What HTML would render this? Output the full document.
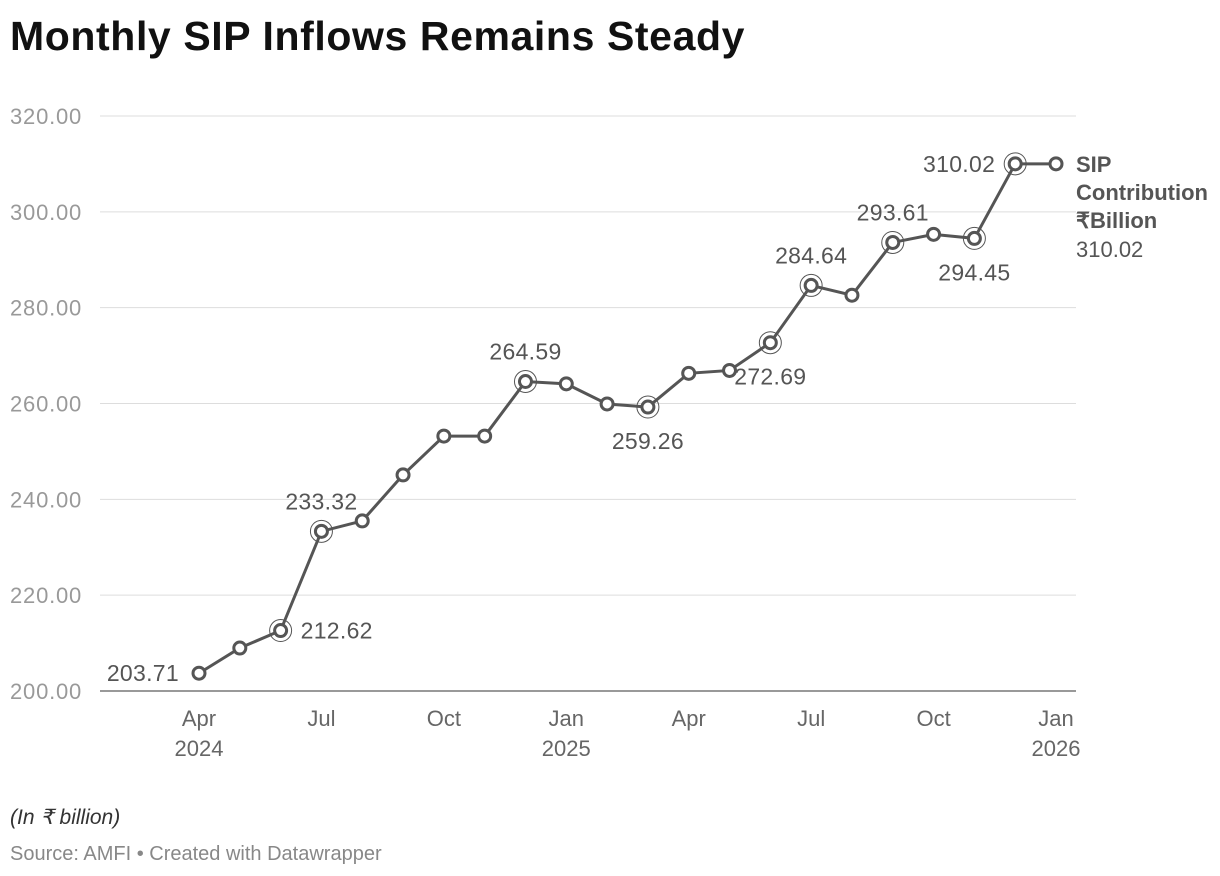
<!DOCTYPE html>
<html><head><meta charset="utf-8"><style>
body{margin:0;background:#fff;font-family:"Liberation Sans","Noto Sans CJK SC",sans-serif;}
svg{display:block}
</style></head><body>
<svg width="1220" height="876">
<text x="10" y="50" font-size="41" font-weight="bold" fill="#111" letter-spacing="0.6">Monthly SIP Inflows Remains Steady</text>
<g id="grid"></g><g id="series"></g><g id="labels"></g>
<text x="10" y="824" font-size="21" font-style="italic" fill="#333">(In ₹ billion)</text>
<text x="10" y="860" font-size="20" fill="#888">Source: AMFI • Created with Datawrapper</text>
</svg>
<script>
const months=["Apr 2024","May 2024","Jun 2024","Jul 2024","Aug 2024","Sep 2024","Oct 2024","Nov 2024","Dec 2024","Jan 2025","Feb 2025","Mar 2025","Apr 2025","May 2025","Jun 2025","Jul 2025","Aug 2025","Sep 2025","Oct 2025","Nov 2025","Dec 2025","Jan 2026"];
const values=[203.71,208.97,212.62,233.32,235.5,245.1,253.2,253.2,264.59,264.1,259.9,259.26,266.3,266.9,272.69,284.64,282.6,293.61,295.3,294.45,310.02,310.02];
const highlighted=[2,3,8,11,14,15,17,19,20];
const labelPos={0:"left",2:"right",3:"above",8:"above",11:"below",14:"below",15:"above",17:"above",19:"below",20:"left"};
const yTicks=[200,220,240,260,280,300,320];
const xTicks=[[0,"Apr","2024"],[3,"Jul",""],[6,"Oct",""],[9,"Jan","2025"],[12,"Apr",""],[15,"Jul",""],[18,"Oct",""],[21,"Jan","2026"]];
const NS="http://www.w3.org/2000/svg";
const X=i=>199+i*(1056-199)/21;
const Y=v=>691-(v-200)*(691-116)/120;
function mk(p,t,a){const e=document.createElementNS(NS,t);for(const k in a)e.setAttribute(k,a[k]);p.appendChild(e);return e;}
const grid=document.getElementById('grid'),ser=document.getElementById('series'),lab=document.getElementById('labels');
yTicks.forEach(v=>{
 const l=mk(grid,'line',{x1:100,x2:1076,y1:Y(v),y2:Y(v),stroke:v==200?'#333':'#ddd','stroke-width':1});
 
 
 const t=mk(grid,'text',{x:10,y:Y(v)+8,'font-size':22,fill:'#999','letter-spacing':0.8});t.textContent=v.toFixed(2);
 
 
});
xTicks.forEach(([i,m,y])=>{
 const t=mk(grid,'text',{x:X(i),y:726,'font-size':22,fill:'#666','text-anchor':'middle'});t.textContent=m;
 
 
 if(y){const t2=mk(grid,'text',{x:X(i),y:756,'font-size':22,fill:'#666','text-anchor':'middle'});t2.textContent=y;
 
 }
});
const pl=mk(ser,'polyline',{points:values.map((v,i)=>X(i)+','+Y(v)).join(' '),fill:'none',stroke:'#555','stroke-width':3});


values.forEach((v,i)=>{
 if(highlighted.includes(i)){const r=mk(ser,'circle',{cx:X(i),cy:Y(v),r:11,fill:'none',stroke:'#555','stroke-width':1});
 
 }
 const c=mk(ser,'circle',{cx:X(i),cy:Y(v),r:6,fill:'#fff',stroke:'#555','stroke-width':3});
 
 
 const p=labelPos[i];
 if(p){let x=X(i),y=Y(v)+8,a='middle';
  if(p=='left'){x-=20;a='end';}else if(p=='right'){x+=20;a='start';}else if(p=='above'){y=Y(v)-22;}else{y=Y(v)+42;}
  const t=mk(lab,'text',{x,y,'font-size':23,fill:'#555','text-anchor':a,'letter-spacing':0.3});t.textContent=v.toFixed(2);
  
  }
});
const last=values.length-1;
[["SIP",0,true],["Contribution",28,true],[" ₹Billion",56,true],[values[last].toFixed(2),85,false]].forEach(([s,d,b])=>{
 const t=mk(lab,'text',{x:1076,y:Y(values[last])+8+d,'font-size':22,fill:'#555','font-weight':b?'bold':'normal'});t.textContent=s;
 
 
});
</script>
</body></html>
